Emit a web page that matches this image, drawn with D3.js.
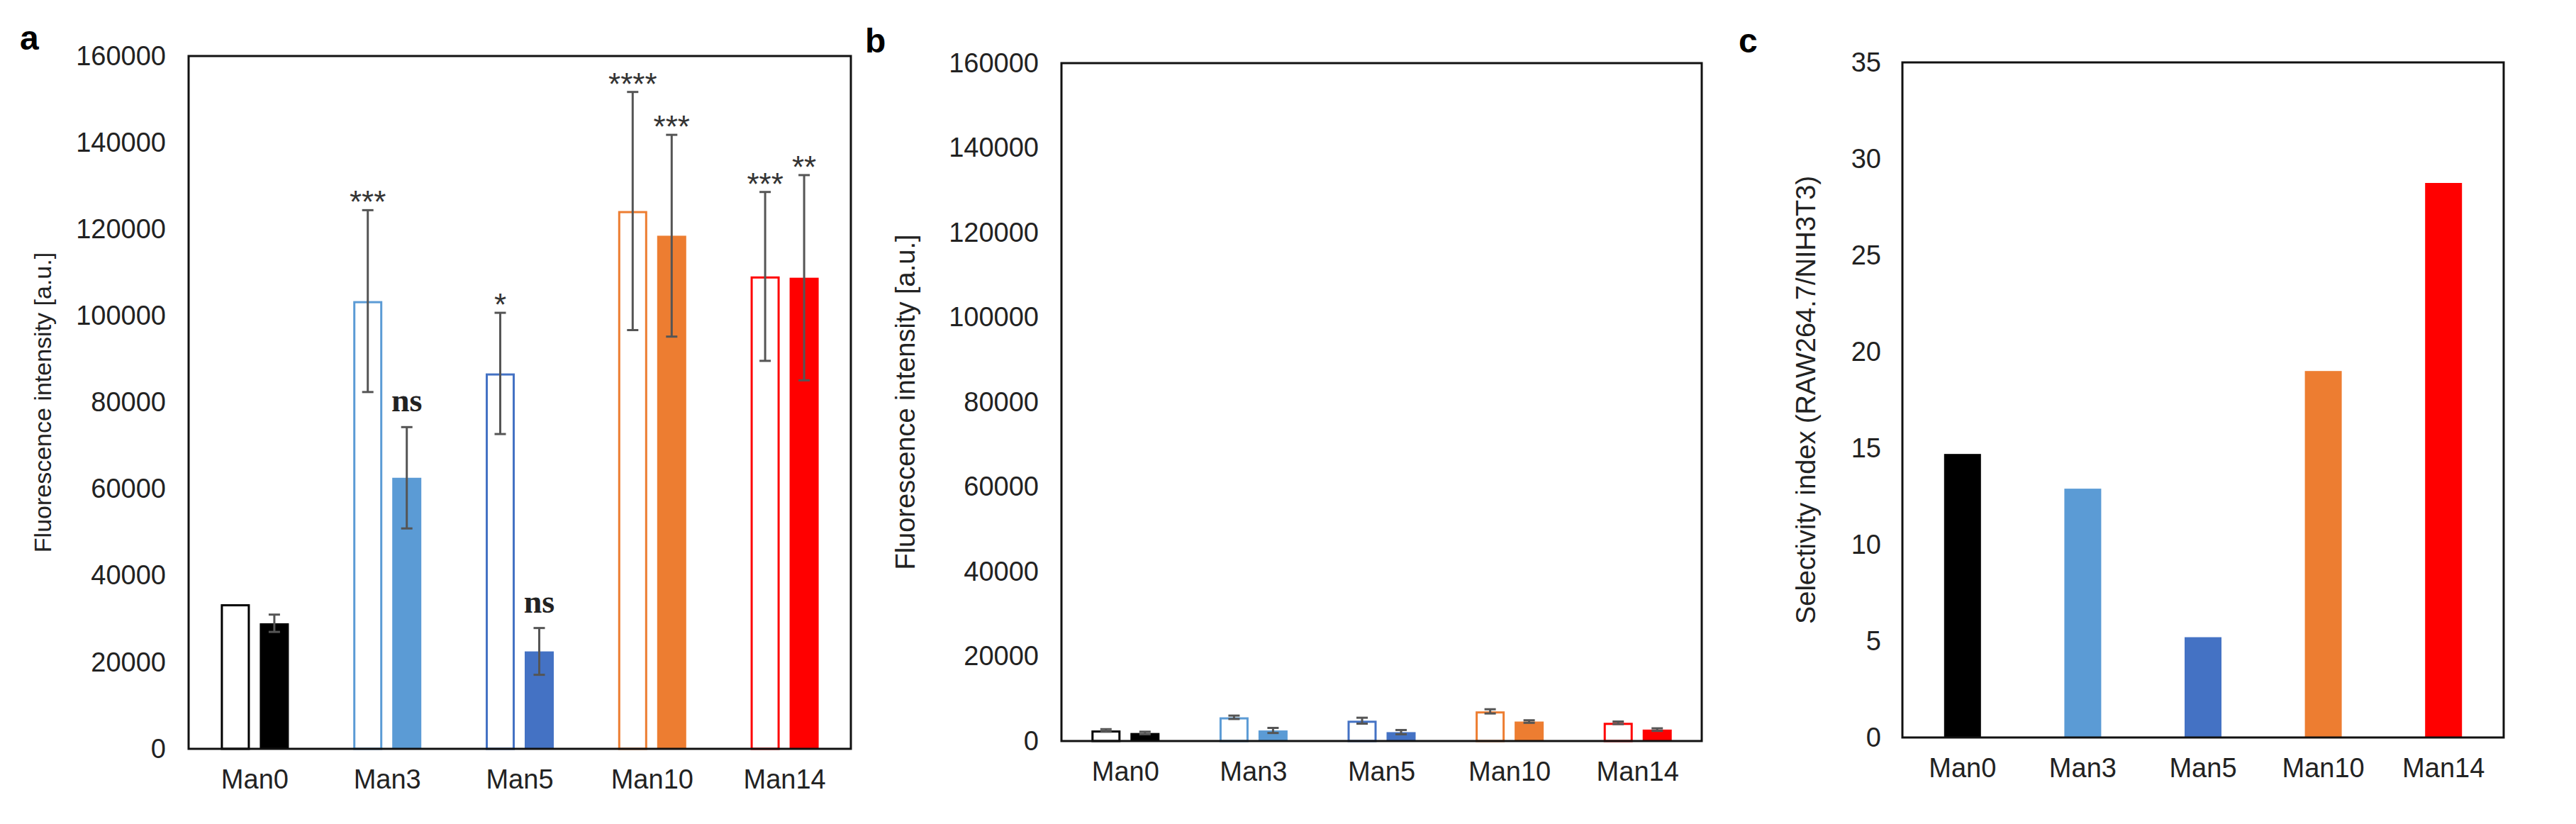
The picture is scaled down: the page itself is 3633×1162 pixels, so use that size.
<!DOCTYPE html>
<html><head><meta charset="utf-8">
<script src="https://cdn.jsdelivr.net/npm/d3@7"></script>
<style>body{margin:0;background:#fff}text{font-family:Arial,"Liberation Sans",sans-serif}</style>
</head><body>
<svg id="c" width="3633" height="1162"></svg>
<script>
const categories = ["Man0","Man3","Man5","Man10","Man14"];
const colors = ["#000000","#5B9BD5","#4472C4","#ED7D31","#FF0000"];
const aHollow = [33400,103400,86700,124200,109100];
const aHollowErr = [0,21000,14000,27500,19500];
const aFilled = [29000,62600,22500,118500,108800];
const aFilledErr = [2000,11700,5400,23300,23700];
const aHollowSig = ["","***","*","****","***"];
const aFilledSig = ["","ns","ns","***","**"];
const bHollow = [2500,5600,4800,7000,4300];
const bHollowErr = [300,400,700,500,300];
const bFilled = [1900,2500,2100,4600,2700];
const bFilledErr = [300,600,500,300,300];
const cValues = [14.7,12.9,5.2,19.0,28.75];
const yTicksAB = [0,20000,40000,60000,80000,100000,120000,140000,160000];
const yTicksC = [0,5,10,15,20,25,30,35];

const svg = d3.select("#c");

function panel(o){
  const g = svg.append("g");
  const x = d3.scaleBand().domain(categories).range([o.l,o.r]);
  const y = d3.scaleLinear().domain([0,o.max]).range([o.b,o.t]);
  const ya = g.append("g").attr("transform",`translate(${o.l},0)`)
    .call(d3.axisLeft(y).tickValues(o.ticks).tickSize(0).tickPadding(o.pad).tickFormat(d3.format("d")));
  ya.select(".domain").remove();
  ya.selectAll("text").attr("font-size",38).attr("fill","#222");
  const xa = g.append("g").attr("transform",`translate(0,${o.b})`)
    .call(d3.axisBottom(x).tickSize(0).tickPadding(22));
  xa.select(".domain").remove();
  xa.selectAll("text").attr("font-size",38).attr("fill","#222").attr("dy","0.9em");
  g.append("text").attr("transform",`translate(${o.tx},${(o.t+o.b)/2}) rotate(-90)`)
    .attr("text-anchor","middle").attr("font-size",o.tfs).attr("fill","#222").text(o.title);
  g.append("text").attr("x",o.lx).attr("y",o.ly).attr("font-size",48).attr("font-weight","bold").text(o.letter);
  return {g,x,y};
}

function pairPanel(o, hv, he, fv, fe, hs, fs){
  const {g,x,y} = panel(o);
  const bw = 41, off = 27.5;
  categories.forEach((c,i)=>{
    const cx = x(c)+x.bandwidth()/2;
    const hx = cx-off, fx = cx+off;
    g.append("rect").attr("x",hx-bw/2+1.5).attr("y",y(hv[i])+1.5).attr("width",bw-3).attr("height",y(0)-y(hv[i])-1.5)
      .attr("fill","#fff").attr("stroke",colors[i]).attr("stroke-width",3);
    g.append("rect").attr("x",fx-bw/2).attr("y",y(fv[i])).attr("width",bw).attr("height",y(0)-y(fv[i]))
      .attr("fill",colors[i]);
    [[hx,hv[i],he[i],hs[i]],[fx,fv[i],fe[i],fs[i]]].forEach(([px,v,e,s])=>{
      if(e>0){
        g.append("line").attr("x1",px).attr("x2",px).attr("y1",y(v+e)).attr("y2",y(v-e)).attr("stroke","#555").attr("stroke-width",3);
        [v+e,v-e].forEach(t=>g.append("line").attr("x1",px-8).attr("x2",px+8).attr("y1",y(t)).attr("y2",y(t)).attr("stroke","#555").attr("stroke-width",3));
      }
      if(s){
        if(s==="ns") g.append("text").attr("x",px).attr("y",y(v+e)-22).attr("text-anchor","middle")
          .style("font-family","'Liberation Serif','DejaVu Serif',serif").attr("font-weight","bold").attr("font-size",46).attr("fill","#222").text(s);
        else g.append("text").attr("x",px).attr("y",y(v+e)+4).attr("text-anchor","middle")
          .attr("font-size",44).attr("fill","#333").text(s);
      }
    });
  });
  g.append("rect").attr("x",o.l).attr("y",o.t).attr("width",o.r-o.l).attr("height",o.b-o.t)
    .attr("fill","none").attr("stroke","#111").attr("stroke-width",3);
}

pairPanel({l:266,r:1200,t:79,b:1056,max:160000,ticks:yTicksAB,pad:32,tx:72,tfs:34,
  title:"Fluorescence intensity [a.u.]",letter:"a",lx:28,ly:70}, aHollow,aHollowErr,aFilled,aFilledErr,aHollowSig,aFilledSig);
pairPanel({l:1497,r:2400,t:89,b:1045,max:160000,ticks:yTicksAB,pad:32,tx:1290,tfs:38,
  title:"Fluorescence intensity [a.u.]",letter:"b",lx:1220,ly:74}, bHollow,bHollowErr,bFilled,bFilledErr,["","","","",""],["","","","",""]);

(function(){
  const o={l:2683,r:3531,t:88,b:1040,max:35,ticks:yTicksC,pad:30,tx:2560,tfs:38,
    title:"Selectivity index (RAW264.7/NIH3T3)",letter:"c",lx:2452,ly:74};
  const {g,x,y} = panel(o);
  const bw = 52;
  g.selectAll("rect.bar").data(cValues).join("rect").attr("class","bar")
    .attr("x",(d,i)=>x(categories[i])+x.bandwidth()/2-bw/2).attr("y",d=>y(d))
    .attr("width",bw).attr("height",d=>y(0)-y(d)).attr("fill",(d,i)=>colors[i]);
  g.append("rect").attr("x",o.l).attr("y",o.t).attr("width",o.r-o.l).attr("height",o.b-o.t)
    .attr("fill","none").attr("stroke","#111").attr("stroke-width",3);
})();
</script>
</body></html>
